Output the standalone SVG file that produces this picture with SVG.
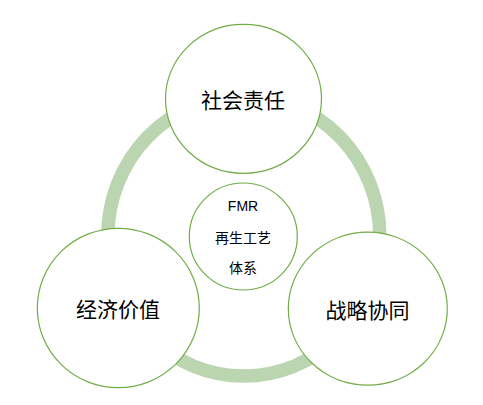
<svg xmlns="http://www.w3.org/2000/svg" width="483" height="405" viewBox="0 0 483 405">
  <style>
    .node { fill: #FFFFFF; stroke: #70AD47; stroke-width: 1.2; }
    .ring { fill: none; stroke: #BBD5B0; stroke-width: 13.5; }
    .big { font-family: "Noto Sans CJK SC", "Microsoft YaHei", sans-serif; font-size: 21px; fill: #000000; text-anchor: middle; dominant-baseline: central; }
    .small { font-family: "Noto Sans CJK SC", sans-serif; font-size: 14px; fill: #000000; text-anchor: middle; dominant-baseline: central; }
    .latin { font-family: "Liberation Sans", "Noto Sans CJK SC", sans-serif; font-size: 14px; fill: #000000; text-anchor: middle; dominant-baseline: central; }
  </style>
  <rect width="483" height="405" fill="#FFFFFF"/>
  <g id="connectors">
    <ellipse class="ring" cx="243.8" cy="236" rx="136" ry="140"/>
  </g>
  <g id="node-social">
    <ellipse class="node" cx="243.5" cy="98.8" rx="78" ry="74.5"/>
    <text class="big" x="243" y="98.5">社会责任</text>
  </g>
  <g id="node-economic">
    <ellipse class="node" cx="118.3" cy="308" rx="81" ry="79.7"/>
    <text class="big" x="118" y="308">经济价值</text>
  </g>
  <g id="node-strategic">
    <ellipse class="node" cx="367.8" cy="308.7" rx="79.5" ry="76.5"/>
    <text class="big" x="367.5" y="308.5">战略协同</text>
  </g>
  <g id="node-center">
    <ellipse class="node" cx="243.3" cy="236.5" rx="54" ry="53.5"/>
    <text class="latin" x="243" y="206">FMR</text>
    <text class="small" x="243" y="236.5">再生工艺</text>
    <text class="small" x="243" y="267">体系</text>
  </g>
</svg>
